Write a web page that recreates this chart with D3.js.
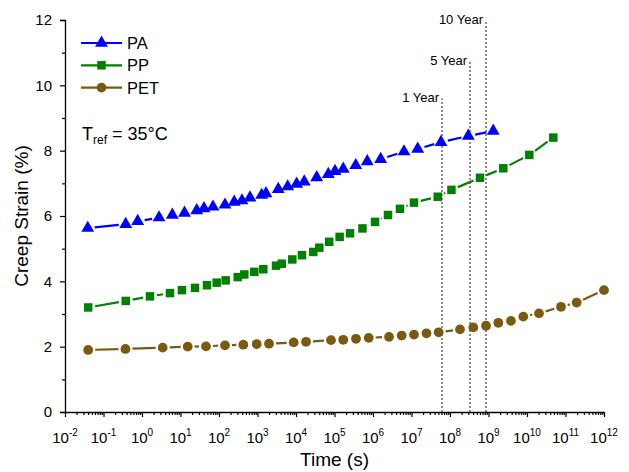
<!DOCTYPE html>
<html lang="en">

<head>
    <meta charset="UTF-8">
    <title>creep strain master curves</title>
    <style>
        body { margin: 0; background: #fff; }
        text { font-family: "Liberation Sans", Arial, sans-serif; fill: #000; }
    </style>
</head>

<body>
    <svg id="chart"></svg>

    <script src="https://d3js.org/d3.v7.min.js"></script>
    <script>
        // time (s) and creep strain (%)
        const paTime = [0.039, 0.378, 0.773, 2.77, 6.12, 12.7, 26.4, 40.7, 69.8, 143, 249, 395, 638, 1285, 1663, 3467, 6081,
            1.04e4, 1.64e4, 3.45e4, 6.9e4, 1.03e5, 1.69e5, 3.56e5, 7.11e5, 1.58e6, 6.38e6, 1.45e7, 5.83e7, 2.99e8, 1.33e9];
        const paStrain = [5.63, 5.75, 5.84, 5.95, 6.03, 6.09, 6.17, 6.23, 6.28, 6.34, 6.43, 6.47, 6.56, 6.64, 6.69, 6.82, 6.90,
            6.98, 7.05, 7.18, 7.28, 7.37, 7.44, 7.55, 7.67, 7.74, 7.97, 8.05, 8.26, 8.45, 8.60];

        const ppTime = [0.040, 0.378, 1.61, 5.33, 10.9, 23.8, 48.8, 87.1, 149, 306, 454, 826, 1416, 3027, 4256, 8017,
            1.43e4, 2.81e4, 4.03e4, 7.28e4, 1.36e5, 2.53e5, 5.33e5, 1.13e6, 2.45e6, 5.02e6, 1.16e7, 4.8e7, 1.09e8,
            6.01e8, 2.42e9, 1.15e10, 4.82e10];
        const ppStrain = [3.20, 3.40, 3.54, 3.64, 3.73, 3.80, 3.88, 3.96, 4.03, 4.13, 4.21, 4.29, 4.37, 4.48, 4.54, 4.67,
            4.80, 4.90, 5.03, 5.21, 5.36, 5.47, 5.62, 5.82, 6.03, 6.22, 6.41, 6.59, 6.80,
            7.17, 7.46, 7.87, 8.40];

        const petTime = [0.040, 0.372, 3.45, 15.4, 45.9, 143, 428, 953, 1991, 8710, 1.82e4, 8.11e4, 1.69e5, 3.61e5, 7.73e5,
            2.61e6, 5.56e6, 1.16e7, 2.45e7, 5.08e7, 1.82e8, 4.03e8, 8.61e8, 1.8e9, 3.84e9, 8.02e9, 2.05e10, 7.64e10,
            1.95e11, 1e12];
        const petStrain = [1.90, 1.93, 1.97, 2.00, 2.01, 2.04, 2.06, 2.08, 2.09, 2.13, 2.15, 2.20, 2.21, 2.24, 2.27,
            2.30, 2.34, 2.37, 2.41, 2.44, 2.53, 2.59, 2.64, 2.73, 2.79, 2.92, 3.02, 3.22,
            3.35, 3.73];

        const seriesNames = ['PA', 'PP', 'PET'];
        const yTicks = [0, 2, 4, 6, 8, 10, 12];
        const xExponents = [-2, -1, 0, 1, 2, 3, 4, 5, 6, 7, 8, 9, 10, 11, 12];

        // marker lines (1, 5, 10 year) as placed in the picture
        const yearLabels = ['1 Year', '5 Year', '10 Year'];
        const yearTime = [6.3e7, 3.3e8, 8.5e8];
        const yearTop = [9.6, 10.75, 12];

        function render() {
            const svg = d3.select('#chart').attr('width', 629).attr('height', 472);
            const margin = { top: 20, left: 65, bottom: 60, right: 25 };
            const width = 629, height = 472;

            const x = d3.scaleLog().domain([1e-2, 1e12]).range([margin.left, width - margin.right]);
            const y = d3.scaleLinear().domain([0, 12]).range([height - margin.bottom, margin.top]);

            const series = [
                { name: seriesNames[0], color: '#0000ff', shape: d3.symbolTriangle, size: 72, t: paTime, v: paStrain },
                { name: seriesNames[1], color: '#008000', shape: d3.symbolSquare, size: 72, t: ppTime, v: ppStrain },
                { name: seriesNames[2], color: '#7a5a10', shape: d3.symbolCircle, size: 75, t: petTime, v: petStrain },
            ];

            // dotted year lines
            const yl = svg.append('g');
            yearLabels.forEach((lab, i) => {
                const lx = Math.round(x(yearTime[i]));
                yl.append('line')
                    .attr('x1', lx).attr('x2', lx)
                    .attr('y1', y(0)).attr('y2', y(yearTop[i]))
                    .attr('stroke', '#8c8c8c').attr('stroke-width', 2).attr('stroke-dasharray', '2,2');
                yl.append('text')
                    .attr('x', lx - 3).attr('y', y(yearTop[i]) + 4)
                    .attr('text-anchor', 'end').attr('font-size', 13)
                    .text(lab);
            });

            // y axis
            const yAxis = d3.axisLeft(y).tickValues(yTicks).tickSize(5).tickPadding(8);
            svg.append('g')
                .attr('transform', `translate(${margin.left},0)`)
                .call(yAxis)
                .call(g => g.selectAll('text').attr('font-size', 15).attr('font-family', '"Liberation Sans", Arial'));
            const yMinor = d3.axisLeft(y).tickValues(d3.range(1, 12, 2)).tickSize(3).tickFormat('');
            svg.append('g').attr('transform', `translate(${margin.left},0)`).call(yMinor)
                .call(g => g.select('.domain').remove());

            // x axis
            const majors = xExponents.map(e => Math.pow(10, e));
            const xAxis = d3.axisBottom(x).tickValues(majors).tickSize(5).tickFormat('').tickSizeOuter(0);
            svg.append('g')
                .attr('transform', `translate(0,${y(0)})`)
                .call(xAxis);
            const minors = [];
            xExponents.slice(0, -1).forEach(e => {
                for (let k = 2; k <= 9; k++) minors.push(k * Math.pow(10, e));
            });
            svg.append('g')
                .attr('transform', `translate(0,${y(0)})`)
                .call(d3.axisBottom(x).tickValues(minors).tickSize(3).tickFormat(''))
                .call(g => g.select('.domain').remove());

            svg.selectAll('.domain').attr('stroke-width', 1.3);
            svg.selectAll('.tick line').attr('stroke-width', 1.2);

            const xl = svg.append('g');
            xExponents.forEach(e => {
                const t = xl.append('text')
                    .attr('x', x(Math.pow(10, e))).attr('y', y(0) + 31)
                    .attr('text-anchor', 'middle').attr('font-size', 15);
                t.append('tspan').text('10');
                t.append('tspan').attr('dy', -7).attr('font-size', 10).text(e);
            });

            // axis titles
            svg.append('text')
                .attr('x', (margin.left + width - margin.right) / 2).attr('y', 466)
                .attr('text-anchor', 'middle').attr('font-size', 19)
                .text('Time (s)');
            svg.append('text')
                .attr('transform', `translate(28,${y(6)}) rotate(-90)`)
                .attr('text-anchor', 'middle').attr('font-size', 19)
                .text('Creep Strain (%)');

            // curves: line broken around each marker, then markers
            const gap = 7;
            series.forEach(s => {
                const pts = s.t.map((t, i) => [x(t), y(s.v[i])]);
                const g = svg.append('g');
                for (let i = 0; i < pts.length - 1; i++) {
                    const [x0, y0] = pts[i], [x1, y1] = pts[i + 1];
                    const len = Math.hypot(x1 - x0, y1 - y0);
                    if (len <= 2 * gap) continue;
                    const ux = (x1 - x0) / len, uy = (y1 - y0) / len;
                    g.append('line')
                        .attr('x1', x0 + ux * gap).attr('y1', y0 + uy * gap)
                        .attr('x2', x1 - ux * gap).attr('y2', y1 - uy * gap)
                        .attr('stroke', s.color).attr('stroke-width', 2.2);
                }
                g.selectAll('path')
                    .data(pts)
                    .join('path')
                    .attr('transform', d => `translate(${d[0]},${d[1]})`)
                    .attr('d', d3.symbol(s.shape, s.size))
                    .attr('fill', s.color);
            });

            // legend
            const lg = svg.append('g');
            series.forEach((s, i) => {
                const ly = 43 + i * 22.3;
                lg.append('line').attr('x1', 81).attr('x2', 122).attr('y1', ly).attr('y2', ly)
                    .attr('stroke', s.color).attr('stroke-width', 2.2);
                lg.append('path').attr('transform', `translate(101.5,${ly})`)
                    .attr('d', d3.symbol(s.shape, s.size)).attr('fill', s.color);
                lg.append('text').attr('x', 127).attr('y', ly + 6).attr('font-size', 16.5).text(s.name);
            });

            const tref = svg.append('text').attr('x', 82).attr('y', 140).attr('font-size', 18);
            tref.append('tspan').text('T');
            tref.append('tspan').attr('dy', 4).attr('font-size', 12).text('ref');
            tref.append('tspan').attr('dy', -4).text(' = 35°C');
        }

        render()
    </script>
</body>

</html>
